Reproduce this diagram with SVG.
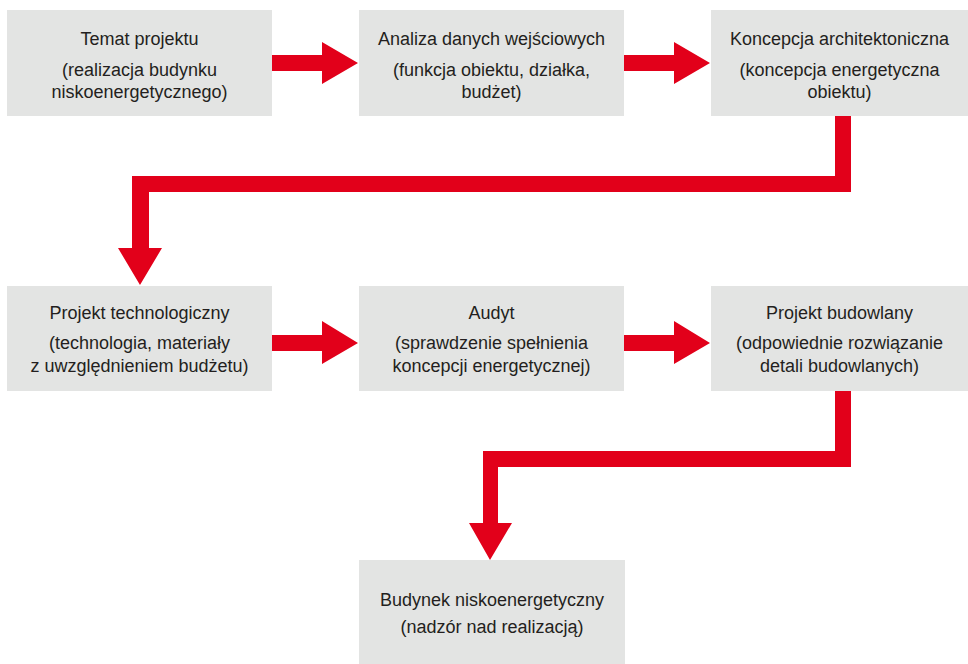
<svg xmlns="http://www.w3.org/2000/svg" width="968" height="664" viewBox="0 0 968 664">
<style>
.box{fill:#e3e4e3}
.t{font-family:"Liberation Sans",Arial,sans-serif;font-size:18px;fill:#231f20;text-anchor:middle}
.c{fill:#e2001a}
</style>
<rect width="968" height="664" fill="#fff"/>
<g id="connectors">
<polygon class="c" points="272,55 322,55 322,42 358,63 322,84 322,71 272,71"/>
<polygon class="c" points="624,55 674,55 674,42 710,63 674,84 674,71 624,71"/>
<polygon class="c" points="835,116 851,116 851,192 149,192 149,248 162,248 140,285 118,248 132,248 132,176 835,176"/>
<polygon class="c" points="272,335 322,335 322,321 358,343 322,364 322,351 272,351"/>
<polygon class="c" points="624,335 674,335 674,321 710,343 674,364 674,351 624,351"/>
<polygon class="c" points="835,391 851,391 851,467 498,467 498,523 512,523 490,560 469,523 483,523 483,451 835,451"/>
</g>
<g id="n1"><rect class="box" x="7" y="10" width="265" height="106"/>
<text class="t" x="139.5" y="45">Temat projektu</text>
<text class="t" x="139.5" y="76">(realizacja budynku</text>
<text class="t" x="139.5" y="98">niskoenergetycznego)</text></g>
<g id="n2"><rect class="box" x="359" y="10" width="265" height="106"/>
<text class="t" x="491.5" y="45">Analiza danych wejściowych</text>
<text class="t" x="491.5" y="76">(funkcja obiektu, działka,</text>
<text class="t" x="491.5" y="98">budżet)</text></g>
<g id="n3"><rect class="box" x="711" y="10" width="257" height="106"/>
<text class="t" x="839.5" y="45">Koncepcja architektoniczna</text>
<text class="t" x="839.5" y="76">(koncepcja energetyczna</text>
<text class="t" x="839.5" y="98">obiektu)</text></g>
<g id="n4"><rect class="box" x="7" y="286" width="265" height="105"/>
<text class="t" x="139.5" y="319">Projekt technologiczny</text>
<text class="t" x="139.5" y="349">(technologia, materiały</text>
<text class="t" x="139.5" y="372">z uwzględnieniem budżetu)</text></g>
<g id="n5"><rect class="box" x="359" y="286" width="265" height="105"/>
<text class="t" x="491.5" y="319">Audyt</text>
<text class="t" x="491.5" y="349">(sprawdzenie spełnienia</text>
<text class="t" x="491.5" y="372">koncepcji energetycznej)</text></g>
<g id="n6"><rect class="box" x="711" y="286" width="257" height="105"/>
<text class="t" x="839.5" y="319">Projekt budowlany</text>
<text class="t" x="839.5" y="349">(odpowiednie rozwiązanie</text>
<text class="t" x="839.5" y="372">detali budowlanych)</text></g>
<g id="n7"><rect class="box" x="359" y="560" width="266" height="104"/>
<text class="t" x="492" y="606">Budynek niskoenergetyczny</text>
<text class="t" x="492" y="633">(nadzór nad realizacją)</text></g>
</svg>
